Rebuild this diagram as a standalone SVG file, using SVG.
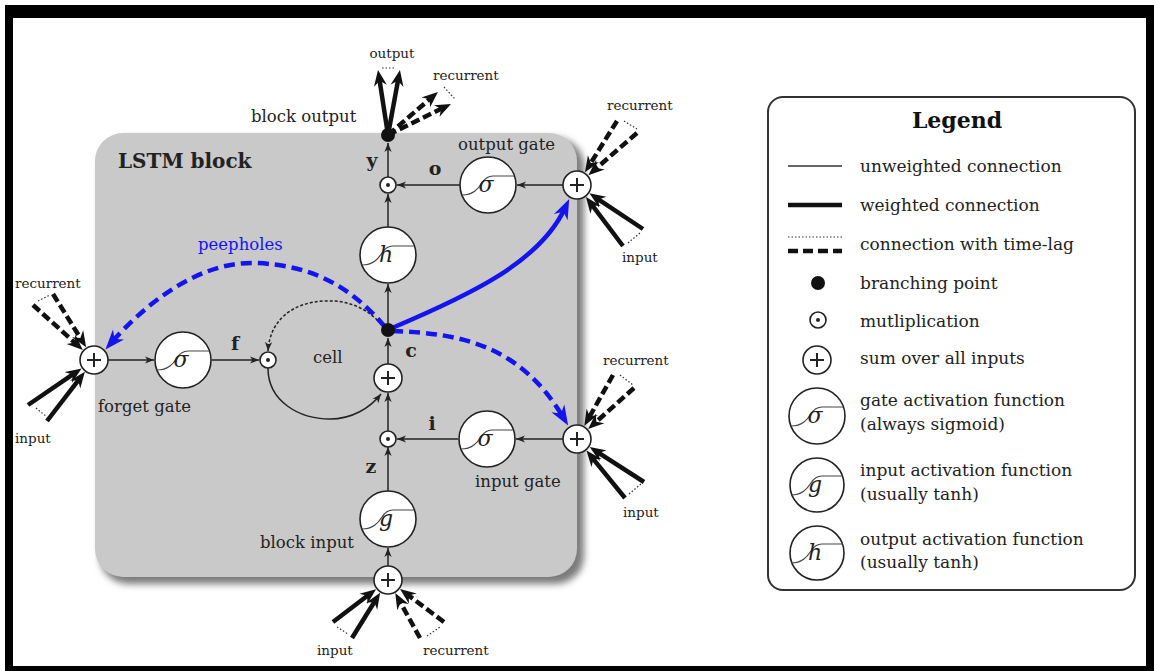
<svg xmlns="http://www.w3.org/2000/svg" width="1154" height="671" viewBox="0 0 1154 671">
<defs>
<style>
.lbl{font-family:"DejaVu Serif","Liberation Serif",serif;font-size:16.5px;fill:#222}
.sm{font-family:"DejaVu Serif","Liberation Serif",serif;font-size:13.5px;fill:#222}
.bold{font-family:"DejaVu Serif","Liberation Serif",serif;font-size:19px;font-weight:bold;fill:#222}
.lg{font-family:"DejaVu Serif","Liberation Serif",serif;font-size:17px;fill:#222}
.sym{font-family:"DejaVu Serif","Liberation Serif",serif;font-size:22px;font-style:italic;fill:#222;text-anchor:middle}
.thin{stroke:#222;stroke-width:1.5;fill:none}
.w{stroke:#111;stroke-width:4.5;fill:none}
.lag{stroke:#111;stroke-width:4.5;fill:none;stroke-dasharray:9 4}
.dot{stroke:#333;stroke-width:1.2;fill:none;stroke-dasharray:1.5 2}
.node{fill:#fff;stroke:#222;stroke-width:1.6}
.sigc{fill:none;stroke:#444;stroke-width:1.2}
.plus{stroke:#222;stroke-width:2;fill:none}
.blue{stroke:#1414f0;stroke-width:4.5;fill:none}
</style>
<marker id="sa" viewBox="-9 -4 9 8" refX="0" refY="0" markerWidth="9" markerHeight="8" markerUnits="userSpaceOnUse" orient="auto">
<path d="M0,0 L-9,-3.6 L-6.5,0 L-9,3.6 Z" fill="#222"/>
</marker>
<marker id="ah" viewBox="-16 -7 16 14" refX="-8" refY="0" markerWidth="16" markerHeight="14" markerUnits="userSpaceOnUse" orient="auto">
<path d="M0,0 L-16,-6.5 L-11,0 L-16,6.5 Z" fill="#111"/>
</marker>
<marker id="bh" viewBox="-20 -8 20 16" refX="-10" refY="0" markerWidth="20" markerHeight="16" markerUnits="userSpaceOnUse" orient="auto">
<path d="M0,0 L-20,-7.5 L-14,0 L-20,7.5 Z" fill="#1414f0"/>
</marker>
<path id="sig" d="M-26,10 C-15,10 -10,4 -6,-2 C-3,-7 0,-9 5,-9 L26,-9" class="sigc"/>
<filter id="sh" x="-10%" y="-10%" width="130%" height="130%">
<feGaussianBlur stdDeviation="3.5"/>
</filter>
</defs>

<g id="frame">
<rect x="0" y="0" width="1154" height="671" fill="#fff"/>
<path d="M5,5 H1154 V671 H5 Z M13,18 V666 H1146 V18 Z" fill="#000" fill-rule="evenodd"/>
</g>

<g id="lstm-block">
<rect x="100" y="138" width="484" height="446" rx="28" fill="#7a7a7a" filter="url(#sh)"/>
<rect x="95" y="133" width="482" height="444" rx="28" fill="#c9c9c9"/>
<text class="bold" x="118" y="168" style="font-size:20px">LSTM block</text>
</g>

<g id="connectors">
<line class="thin" x1="388" y1="566" x2="388" y2="548" marker-end="url(#sa)"/>
<line class="thin" x1="388" y1="491" x2="388" y2="447" marker-end="url(#sa)"/>
<line class="thin" x1="388" y1="431" x2="388" y2="393" marker-end="url(#sa)"/>
<line class="thin" x1="388" y1="364" x2="388" y2="338" marker-end="url(#sa)"/>
<line class="thin" x1="388" y1="323" x2="388" y2="284" marker-end="url(#sa)"/>
<line class="thin" x1="388" y1="227" x2="388" y2="194" marker-end="url(#sa)"/>
<line class="thin" x1="388" y1="177" x2="388" y2="143" marker-end="url(#sa)"/>
<line class="thin" x1="460" y1="185" x2="397" y2="185" marker-end="url(#sa)"/>
<line class="thin" x1="563" y1="185" x2="517" y2="185" marker-end="url(#sa)"/>
<line class="thin" x1="563" y1="439" x2="516" y2="439" marker-end="url(#sa)"/>
<line class="thin" x1="458" y1="439" x2="397" y2="439" marker-end="url(#sa)"/>
<line class="thin" x1="108" y1="360" x2="154" y2="360" marker-end="url(#sa)"/>
<line class="thin" x1="212" y1="360" x2="259" y2="360" marker-end="url(#sa)"/>
<path class="thin" d="M268,368 C268,402 300,419 330,419 C352,419 370,408 381,394" marker-end="url(#sa)"/>
<path class="thin" d="M381,324 C365,306 345,300 325,301 C295,302 270,318 268,351" stroke-dasharray="3 2" marker-end="url(#sa)"/>

<path class="blue" d="M385,327 C350,285 310,265 255,263 C195,261 140,310 112,342" stroke-dasharray="11 6" marker-end="url(#bh)"/>
<path class="blue" d="M392,331 C460,333 520,345 563,417" stroke-dasharray="11 6" marker-end="url(#bh)"/>
<path class="blue" d="M392,328 C470,295 540,262 565,208" stroke-width="4" marker-end="url(#bh)"/>

<line class="w" x1="28" y1="405" x2="75" y2="372.9" marker-end="url(#ah)"/>
<line class="w" x1="47" y1="421" x2="80" y2="378.2" marker-end="url(#ah)"/>
<line class="lag" x1="33" y1="305" x2="76.9" y2="344.6" marker-end="url(#ah)"/>
<line class="lag" x1="53" y1="294" x2="81.9" y2="340.5" marker-end="url(#ah)"/>
<line class="dot" x1="38" y1="301" x2="50" y2="295"/>
<line class="dot" x1="36" y1="408" x2="47" y2="417"/>

<line class="lag" x1="617" y1="121" x2="589.2" y2="165.5" marker-end="url(#ah)"/>
<line class="lag" x1="637" y1="133" x2="594.4" y2="169.9" marker-end="url(#ah)"/>
<line class="w" x1="623" y1="246" x2="590.8" y2="203.4" marker-end="url(#ah)"/>
<line class="w" x1="643" y1="229" x2="596.1" y2="197.8" marker-end="url(#ah)"/>
<line class="dot" x1="624" y1="121" x2="637" y2="129"/>
<line class="dot" x1="628" y1="243" x2="640" y2="233"/>

<line class="lag" x1="613" y1="375" x2="588.3" y2="418.9" marker-end="url(#ah)"/>
<line class="lag" x1="634" y1="388" x2="594.1" y2="423.7" marker-end="url(#ah)"/>
<line class="w" x1="625" y1="498" x2="591.5" y2="456.8" marker-end="url(#ah)"/>
<line class="w" x1="644" y1="482" x2="596.4" y2="451.4" marker-end="url(#ah)"/>
<line class="dot" x1="620" y1="375" x2="633" y2="385"/>
<line class="dot" x1="629" y1="494" x2="641" y2="484"/>

<line class="w" x1="333" y1="622" x2="369.7" y2="594" marker-end="url(#ah)"/>
<line class="w" x1="352" y1="638" x2="375.9" y2="599.5" marker-end="url(#ah)"/>
<line class="lag" x1="420" y1="638" x2="399.1" y2="600.1" marker-end="url(#ah)"/>
<line class="lag" x1="444" y1="622" x2="406.4" y2="593.8" marker-end="url(#ah)"/>
<line class="dot" x1="337" y1="627" x2="348" y2="634"/>
<line class="dot" x1="427" y1="636" x2="440" y2="627"/>

<line class="w" x1="388" y1="135" x2="379.2" y2="77.9" marker-end="url(#ah)"/>
<line class="w" x1="388" y1="135" x2="398.5" y2="77.9" marker-end="url(#ah)"/>
<line class="lag" x1="388" y1="135" x2="431.9" y2="97.2" marker-end="url(#ah)"/>
<line class="lag" x1="388" y1="135" x2="443.8" y2="107.5" marker-end="url(#ah)"/>
<line class="dot" x1="382" y1="68" x2="396" y2="68"/>
<line class="dot" x1="444" y1="87" x2="455" y2="99"/>
</g>

<g id="block-output"><circle cx="388" cy="135" r="7" fill="#111"/></g>
<g id="output-mult"><circle class="node" cx="388" cy="185" r="8"/><circle cx="388" cy="185" r="2" fill="#222"/></g>
<g id="output-gate"><circle class="node" cx="488" cy="185" r="28"/><use href="#sig" x="488" y="185"/><text class="sym" x="486" y="192">σ</text></g>
<g id="output-sum"><circle class="node" cx="577" cy="185" r="14"/><path class="plus" d="M570,185 H584 M577,178 V192"/></g>
<g id="h-act"><circle class="node" cx="388" cy="255" r="28"/><use href="#sig" x="388" y="255"/><text class="sym" x="386" y="262">h</text></g>
<g id="cell-branch"><circle cx="388" cy="330" r="7" fill="#111"/></g>
<g id="cell-sum"><circle class="node" cx="388" cy="378" r="14"/><path class="plus" d="M381,378 H395 M388,371 V385"/></g>
<g id="input-mult"><circle class="node" cx="388" cy="439" r="8"/><circle cx="388" cy="439" r="2" fill="#222"/></g>
<g id="input-gate"><circle class="node" cx="487" cy="439" r="28"/><use href="#sig" x="487" y="439"/><text class="sym" x="485" y="446">σ</text></g>
<g id="input-sum"><circle class="node" cx="577" cy="439" r="14"/><path class="plus" d="M570,439 H584 M577,432 V446"/></g>
<g id="g-act"><circle class="node" cx="388" cy="519" r="28"/><use href="#sig" x="388" y="519"/><text class="sym" x="386" y="526">g</text></g>
<g id="block-input-sum"><circle class="node" cx="388" cy="580" r="14"/><path class="plus" d="M381,580 H395 M388,573 V587"/></g>
<g id="forget-sum"><circle class="node" cx="94" cy="360" r="14"/><path class="plus" d="M87,360 H101 M94,353 V367"/></g>
<g id="forget-gate"><circle class="node" cx="183" cy="360" r="28"/><use href="#sig" x="183" y="360"/><text class="sym" x="181" y="367">σ</text></g>
<g id="forget-mult"><circle class="node" cx="268" cy="360" r="8"/><circle cx="268" cy="360" r="2" fill="#222"/></g>

<g id="labels">
<text class="lbl" x="251" y="122">block output</text>
<text class="sm" x="392" y="58" text-anchor="middle">output</text>
<text class="sm" x="433" y="80">recurrent</text>
<text class="bold" x="372" y="167" text-anchor="middle">y</text>
<text class="bold" x="435" y="175" text-anchor="middle">o</text>
<text class="lbl" x="458" y="150">output gate</text>
<text class="sm" x="607" y="110">recurrent</text>
<text class="sm" x="622" y="262">input</text>
<text class="lbl" x="198" y="250" style="fill:#1414f0">peepholes</text>
<text class="sm" x="15" y="288">recurrent</text>
<text class="sm" x="15" y="443">input</text>
<text class="lbl" x="98" y="412">forget gate</text>
<text class="bold" x="235" y="350" text-anchor="middle">f</text>
<text class="lbl" x="313" y="363">cell</text>
<text class="bold" x="411" y="357" text-anchor="middle">c</text>
<text class="bold" x="432" y="430" text-anchor="middle">i</text>
<text class="sm" x="603" y="365">recurrent</text>
<text class="lbl" x="475" y="487">input gate</text>
<text class="sm" x="623" y="517">input</text>
<text class="bold" x="371" y="473" text-anchor="middle">z</text>
<text class="lbl" x="260" y="548">block input</text>
<text class="sm" x="317" y="655">input</text>
<text class="sm" x="423" y="655">recurrent</text>
</g>

<g id="legend">
<rect x="768" y="97" width="367" height="493" rx="15" fill="#fff" stroke="#333" stroke-width="2"/>
<text x="957" y="128" text-anchor="middle" style="font-family:'DejaVu Serif','Liberation Serif',serif;font-size:22px;font-weight:bold;fill:#111">Legend</text>
<line x1="788" y1="166" x2="842" y2="166" stroke="#333" stroke-width="1.5"/>
<text class="lg" x="860" y="172">unweighted connection</text>
<line x1="788" y1="205" x2="842" y2="205" stroke="#111" stroke-width="4.5"/>
<text class="lg" x="860" y="211">weighted connection</text>
<line x1="788" y1="237" x2="842" y2="237" class="dot"/>
<line x1="788" y1="251" x2="842" y2="251" stroke="#111" stroke-width="4.5" stroke-dasharray="10 5"/>
<text class="lg" x="860" y="250">connection with time-lag</text>
<circle cx="818" cy="283" r="7" fill="#111"/>
<text class="lg" x="860" y="289">branching point</text>
<circle class="node" cx="818" cy="320" r="8"/><circle cx="818" cy="320" r="2" fill="#222"/>
<text class="lg" x="860" y="327">mutliplication</text>
<circle class="node" cx="817" cy="360" r="14"/><path class="plus" d="M810,360 H824 M817,353 V367"/>
<text class="lg" x="860" y="364">sum over all inputs</text>
<circle class="node" cx="817" cy="416" r="28"/><use href="#sig" x="817" y="416"/><text class="sym" x="815" y="423">σ</text>
<text class="lg" x="860" y="406">gate activation function</text>
<text class="lg" x="860" y="430">(always sigmoid)</text>
<circle class="node" cx="817" cy="485" r="27"/><use href="#sig" x="817" y="485"/><text class="sym" x="815" y="492">g</text>
<text class="lg" x="860" y="476">input activation function</text>
<text class="lg" x="860" y="500">(usually tanh)</text>
<circle class="node" cx="817" cy="553" r="27"/><use href="#sig" x="817" y="553"/><text class="sym" x="815" y="560">h</text>
<text class="lg" x="860" y="545">output activation function</text>
<text class="lg" x="860" y="568">(usually tanh)</text>
</g>
</svg>
